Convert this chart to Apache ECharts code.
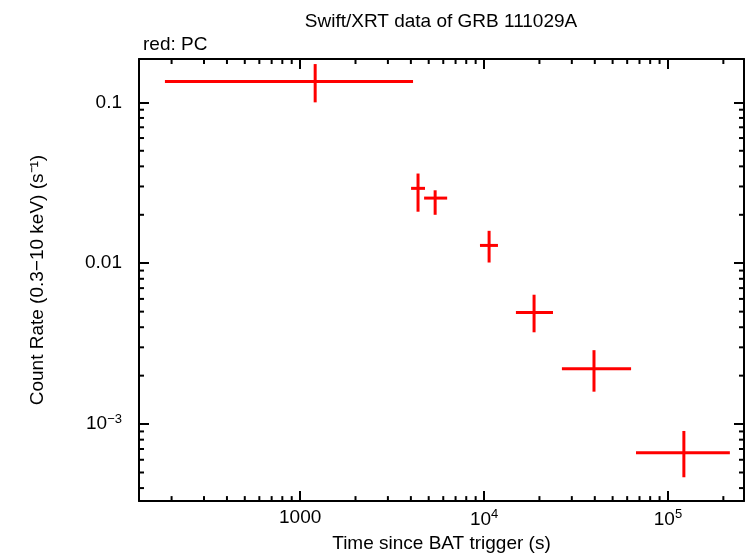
<!DOCTYPE html>
<html><head><meta charset="utf-8">
<script src="https://cdn.jsdelivr.net/npm/echarts@6/dist/echarts.min.js"></script>
<style>html,body{margin:0;padding:0;background:#fff}#c{width:746px;height:558px}</style>
</head><body><div id="c"></div>
<script>
const timeMid = [1207, 4375, 5420, 10650, 18700, 39600, 122000];
const timeLo  = [184, 4010, 4720, 9500, 14900, 26500, 67000];
const timeHi  = [4110, 4775, 6300, 11900, 23700, 63000, 217000];
const rateMid = [0.1346, 0.0292, 0.0254, 0.0129, 0.00493, 0.00221, 0.000664];
const rateLo  = [0.100, 0.0209, 0.0200, 0.0101, 0.00372, 0.00159, 0.000467];
const rateHi  = [0.173, 0.0361, 0.0284, 0.0159, 0.00637, 0.00288, 0.000906];
const xMinorTicks = [200,300,400,500,600,700,800,900,2000,3000,4000,5000,6000,7000,8000,9000,20000,30000,40000,50000,60000,70000,80000,90000,200000];
const yMinorTicks = [0.0004,0.0005,0.0006,0.0007,0.0008,0.0009,0.002,0.003,0.004,0.005,0.006,0.007,0.008,0.009,0.02,0.03,0.04,0.05,0.06,0.07,0.08,0.09];
const X_MIN=133, X_MAX=259000, Y_MIN=0.000332, Y_MAX=0.186;

const chart = echarts.init(document.getElementById('c'));
const F = 'Liberation Sans, Arial, sans-serif';
const xFmt = v => v===1000 ? '1000' : '10{s|' + Math.round(Math.log10(v)) + '}';
const yFmt = v => v>=0.01 ? String(+v.toPrecision(1)) : '10{s|−' + Math.round(-Math.log10(v)) + '}';
const rich = {s:{fontSize:13, verticalAlign:'top', padding:[0,0,10,0], fontFamily:F, color:'#000'}};
const axLine = {show:true, lineStyle:{color:'#000', width:2}};
const tick = {show:true, inside:true, length:10, lineStyle:{color:'#000', width:2}};

const errData = timeMid.map((t,i)=>[t, rateMid[i], timeLo[i], timeHi[i], rateLo[i], rateHi[i]]);

chart.setOption({
  animation:false,
  title:[
    {text:'Swift/XRT data of GRB 111029A', left:436, top:7, textAlign:'center', textStyle:{fontFamily:F, fontSize:19, fontWeight:'normal', color:'#000'}},
    {text:'red: PC', left:138, top:30, textStyle:{fontFamily:F, fontSize:19, fontWeight:'normal', color:'#000'}}
  ],
  grid:{left:139, right:2, top:59, bottom:51},
  xAxis:[
    {type:'log', logBase:10, min:X_MIN, max:X_MAX, axisLine:axLine, axisTick:tick, splitLine:{show:false},
     axisLabel:{formatter:xFmt, rich, fontFamily:F, fontSize:19, color:'#000', margin:7, showMinLabel:false, showMaxLabel:false},
     name:'Time since BAT trigger (s)', nameLocation:'middle', nameGap:32, nameTextStyle:{fontFamily:F, fontSize:19, color:'#000'}},
    {type:'log', logBase:10, min:X_MIN, max:X_MAX, position:'top', axisLine:axLine, axisTick:tick, axisLabel:{show:false}, splitLine:{show:false}}
  ],
  yAxis:[
    {type:'log', logBase:10, min:Y_MIN, max:Y_MAX, axisLine:axLine, axisTick:tick, splitLine:{show:false},
     axisLabel:{formatter:yFmt, rich, fontFamily:F, fontSize:19, color:'#000', margin:17, showMinLabel:false, showMaxLabel:false},
     name:'Count Rate (0.3−10 keV) (s⁻¹)', nameLocation:'middle', nameGap:92, nameTextStyle:{fontFamily:F, fontSize:19, color:'#000'}},
    {type:'log', logBase:10, min:Y_MIN, max:Y_MAX, position:'right', axisLine:axLine, axisTick:tick, axisLabel:{show:false}, splitLine:{show:false}}
  ],
  series:[
    {type:'custom', xAxisIndex:0, yAxisIndex:0, data:errData, clip:false,
     renderItem:(p,api)=>{
       const c=api.coord([api.value(0),api.value(1)]);
       const l=api.coord([api.value(2),api.value(1)]), r=api.coord([api.value(3),api.value(1)]);
       const lo=api.coord([api.value(0),api.value(4)]), hi=api.coord([api.value(0),api.value(5)]);
       const st={stroke:'#ff0000', lineWidth:3};
       return {type:'group', children:[
         {type:'line', shape:{x1:l[0],y1:c[1],x2:r[0],y2:c[1]}, style:st},
         {type:'line', shape:{x1:c[0],y1:lo[1],x2:c[0],y2:hi[1]}, style:st}
       ]};
     }},
    {type:'custom', xAxisIndex:0, yAxisIndex:0, data:xMinorTicks.map(v=>[v]), clip:false, silent:true,
     renderItem:(p,api)=>{
       const cs=p.coordSys; const x=api.coord([api.value(0),Y_MAX])[0];
       const st={stroke:'#000', lineWidth:2};
       return {type:'group', children:[
         {type:'line', shape:{x1:x,y1:cs.y+cs.height,x2:x,y2:cs.y+cs.height-5}, style:st},
         {type:'line', shape:{x1:x,y1:cs.y,x2:x,y2:cs.y+5}, style:st}
       ]};
     }},
    {type:'custom', xAxisIndex:0, yAxisIndex:0, data:yMinorTicks.map(v=>[X_MIN,v]), clip:false, silent:true,
     renderItem:(p,api)=>{
       const cs=p.coordSys; const y=api.coord([X_MIN,api.value(1)])[1];
       const st={stroke:'#000', lineWidth:2};
       return {type:'group', children:[
         {type:'line', shape:{x1:cs.x,y1:y,x2:cs.x+5,y2:y}, style:st},
         {type:'line', shape:{x1:cs.x+cs.width,y1:y,x2:cs.x+cs.width-5,y2:y}, style:st}
       ]};
     }}
  ]
});
</script></body></html>
